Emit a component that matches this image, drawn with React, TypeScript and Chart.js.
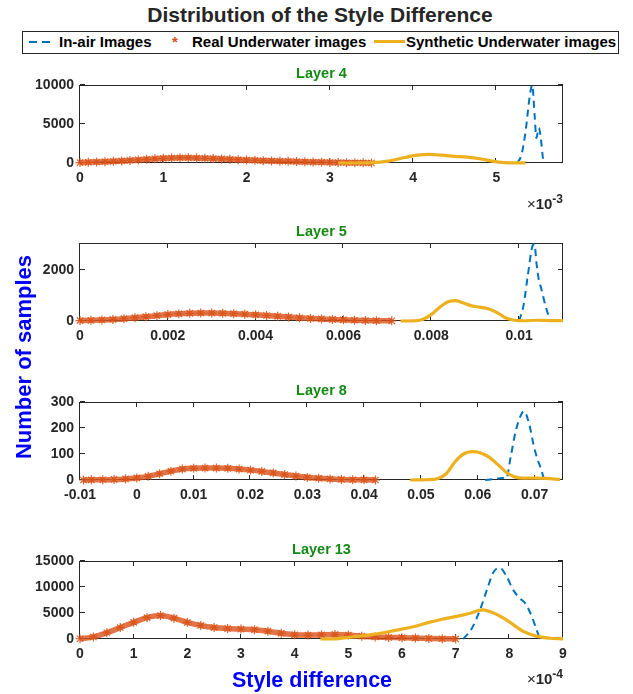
import React, { useEffect, useRef } from "react";
import { Chart, registerables } from "chart.js";
Chart.register(...registerables);

// ---------- colours / fonts ----------
const BLUE = "#0072BD";
const ORANGE = "#D95319";
const YELLOW = "#EDB120";
const AXIS = "#262626";
const FONT = "'Liberation Sans', Arial, Helvetica, sans-serif";

// ---------- text ----------
const MAIN_TITLE = "Distribution of the Style Difference";
const LEGEND_LABELS = ["In-air Images", "Real Underwater images", "Synthetic Underwater images"];
const Y_TITLE = "Number of samples";
const X_TITLE = "Style difference";
const PANEL_TITLES = ["Layer 4", "Layer 5", "Layer 8", "Layer 13"];

// ---------- Layer 4 (x in units of 1e-3) ----------
const L4_xTicks = [0, 1, 2, 3, 4, 5];
const L4_yTicks = [0, 5000, 10000];
const L4_airX = [5.25, 5.3, 5.35, 5.4, 5.43, 5.46, 5.48, 5.51, 5.53, 5.56, 5.58];
const L4_airY = [0, 1000, 4000, 8500, 10000, 6000, 3200, 4500, 3500, 600, 0];
const L4_realX = [0, 0.1, 0.2, 0.3, 0.4, 0.5, 0.6, 0.7, 0.8, 0.9, 1.0, 1.1, 1.2, 1.3, 1.4, 1.5, 1.6, 1.7, 1.8, 1.9, 2.0, 2.1, 2.2, 2.3, 2.4, 2.5, 2.6, 2.7, 2.8, 2.9, 3.0, 3.1, 3.2, 3.3, 3.4, 3.5];
const L4_realY = [60, 90, 130, 170, 220, 270, 330, 400, 470, 540, 600, 640, 660, 660, 640, 610, 570, 520, 470, 420, 380, 340, 300, 270, 240, 210, 180, 150, 125, 100, 80, 60, 45, 30, 20, 10];
const L4_synX = [3.1, 3.3, 3.5, 3.7, 3.9, 4.05, 4.2, 4.35, 4.5, 4.65, 4.8, 4.95, 5.1, 5.2, 5.35];
const L4_synY = [0, 0, 40, 250, 700, 1000, 1100, 1000, 850, 750, 550, 250, 60, 20, 10];

// ---------- Layer 5 ----------
const L5_xTicks = [0, 0.002, 0.004, 0.006, 0.008, 0.01];
const L5_yTicks = [0, 2000];
const L5_airX = [0.01, 0.0101, 0.0102, 0.0103, 0.01035, 0.0104, 0.01045, 0.0105, 0.0106, 0.0107];
const L5_airY = [0, 600, 1800, 2900, 3000, 2200, 1600, 1300, 600, 50];
const L5_realX = [0, 0.00025, 0.0005, 0.00075, 0.001, 0.00125, 0.0015, 0.00175, 0.002, 0.00225, 0.0025, 0.00275, 0.003, 0.00325, 0.0035, 0.00375, 0.004, 0.00425, 0.0045, 0.00475, 0.005, 0.00525, 0.0055, 0.00575, 0.006, 0.00625, 0.0065, 0.00675, 0.0071];
const L5_realY = [15, 25, 40, 60, 90, 130, 170, 210, 250, 280, 300, 310, 310, 300, 285, 265, 240, 215, 185, 155, 125, 100, 80, 60, 45, 30, 20, 12, 5];
const L5_synX = [0.0073, 0.0076, 0.0078, 0.008, 0.0082, 0.0084, 0.00855, 0.0087, 0.0089, 0.0091, 0.0093, 0.0095, 0.0097, 0.0099, 0.0101, 0.0104, 0.0107, 0.011];
const L5_synY = [0, 5, 60, 250, 550, 760, 800, 720, 600, 540, 480, 330, 120, 30, 10, 30, 15, 10];

// ---------- Layer 8 ----------
const L8_xTicks = [-0.01, 0, 0.01, 0.02, 0.03, 0.04, 0.05, 0.06, 0.07];
const L8_yTicks = [0, 100, 200, 300];
const L8_airX = [0.0613, 0.063, 0.0643, 0.065, 0.0658, 0.0667, 0.0675, 0.0681, 0.069, 0.0699, 0.0705, 0.0711, 0.0717];
const L8_airY = [0, 4, 8, 5, 90, 190, 245, 265, 220, 128, 80, 45, 0];
const L8_realX = [-0.0094, -0.008, -0.006, -0.004, -0.002, 0, 0.002, 0.004, 0.006, 0.008, 0.01, 0.012, 0.014, 0.016, 0.018, 0.02, 0.022, 0.024, 0.026, 0.028, 0.03, 0.032, 0.034, 0.036, 0.038, 0.04, 0.042];
const L8_realY = [0, 0.5, 1, 2, 4, 8, 14, 24, 34, 42, 45, 46, 46, 45, 42, 38, 33, 27, 21, 15, 10, 7, 4, 2, 1, 0.5, 0];
const L8_synX = [0.0481, 0.051, 0.053, 0.0545, 0.056, 0.0575, 0.059, 0.0605, 0.062, 0.0635, 0.065, 0.0665, 0.068, 0.07, 0.072, 0.0745];
const L8_synY = [0, 1, 6, 25, 70, 100, 109, 104, 88, 60, 30, 12, 7, 7, 6, 2];

// ---------- Layer 13 (x in units of 1e-4) ----------
const L13_xTicks = [0, 1, 2, 3, 4, 5, 6, 7, 8, 9];
const L13_yTicks = [0, 5000, 10000, 15000];
const L13_airX = [7.14, 7.3, 7.45, 7.6, 7.7, 7.82, 7.95, 8.08, 8.2, 8.3, 8.42, 8.5, 8.57];
const L13_airY = [0, 2000, 5500, 10000, 12800, 13700, 12000, 9300, 7800, 6800, 4300, 2000, 0];
const L13_realX = [0, 0.25, 0.5, 0.75, 1.0, 1.25, 1.5, 1.75, 2.0, 2.25, 2.5, 2.75, 3.0, 3.25, 3.5, 3.75, 4.0, 4.25, 4.5, 4.75, 5.0, 5.25, 5.5, 5.75, 6.0, 6.25, 6.5, 6.75, 7.0];
const L13_realY = [50, 400, 1200, 2200, 3200, 4100, 4500, 4000, 3200, 2600, 2200, 2000, 1900, 1800, 1500, 1100, 800, 750, 800, 850, 750, 550, 400, 300, 250, 180, 100, 50, 20];
const L13_synX = [4.48, 4.75, 5.0, 5.25, 5.5, 5.75, 6.0, 6.25, 6.5, 6.75, 7.0, 7.25, 7.5, 7.75, 8.0, 8.25, 8.5, 8.75, 9.0];
const L13_synY = [0, 30, 300, 600, 950, 1400, 1900, 2450, 3200, 3800, 4300, 4900, 5600, 4800, 3300, 1500, 550, 150, 20];

type Series = { x: number[]; y: number[] };
type PanelDef = {
  title: string;
  boxTop: number;
  xMin: number;
  xMax: number;
  xTicks: number[];
  yMax: number;
  yTicks: number[];
  air: Series;
  real: Series;
  syn: Series;
};

const PANELS: PanelDef[] = [
  { title: PANEL_TITLES[0], boxTop: 85, xMin: 0, xMax: 5.8, xTicks: L4_xTicks, yMax: 10000, yTicks: L4_yTicks,
    air: { x: L4_airX, y: L4_airY }, real: { x: L4_realX, y: L4_realY }, syn: { x: L4_synX, y: L4_synY } },
  { title: PANEL_TITLES[1], boxTop: 243, xMin: 0, xMax: 0.011, xTicks: L5_xTicks, yMax: 3050, yTicks: L5_yTicks,
    air: { x: L5_airX, y: L5_airY }, real: { x: L5_realX, y: L5_realY }, syn: { x: L5_synX, y: L5_synY } },
  { title: PANEL_TITLES[2], boxTop: 402, xMin: -0.01, xMax: 0.075, xTicks: L8_xTicks, yMax: 300, yTicks: L8_yTicks,
    air: { x: L8_airX, y: L8_airY }, real: { x: L8_realX, y: L8_realY }, syn: { x: L8_synX, y: L8_synY } },
  { title: PANEL_TITLES[3], boxTop: 561, xMin: 0, xMax: 9, xTicks: L13_xTicks, yMax: 15000, yTicks: L13_yTicks,
    air: { x: L13_airX, y: L13_airY }, real: { x: L13_realX, y: L13_realY }, syn: { x: L13_synX, y: L13_synY } },
];

const PLOT_LEFT = 80;
const PLOT_RIGHT = 563;
const BOX_H = 78;
const TOP_PAD = 20;
const X_AXIS_H = 30;
const CANVAS_W = 633;
const CANVAS_H = TOP_PAD + BOX_H + X_AXIS_H;

const fmt = (v: number) => String(Math.round(v * 1e6) / 1e6);

const axesBox = {
  id: "axesBox",
  beforeDatasetsDraw(chart: any, _args: any, opts: any) {
    const { ctx, chartArea } = chart;
    const { left, right, top, bottom } = chartArea;
    const xs = chart.scales.x;
    const ys = chart.scales.y;
    ctx.save();
    ctx.strokeStyle = AXIS;
    ctx.lineWidth = 1;
    ctx.strokeRect(left - 0.5, top + 0.5, right - left, bottom - top - 1);
    ctx.beginPath();
    (opts.xTicks || []).forEach((v: number) => {
      const px = Math.round(xs.getPixelForValue(v)) - 0.5;
      ctx.moveTo(px, bottom);
      ctx.lineTo(px, bottom - 5);
      ctx.moveTo(px, top);
      ctx.lineTo(px, top + 5);
    });
    (opts.yTicks || []).forEach((v: number) => {
      const py = Math.round(ys.getPixelForValue(v)) - 0.5;
      ctx.moveTo(left, py);
      ctx.lineTo(left + 5, py);
      ctx.moveTo(right, py);
      ctx.lineTo(right - 5, py);
    });
    ctx.stroke();
    ctx.fillStyle = "#138a13";
    ctx.font = `bold 14.5px ${FONT}`;
    ctx.textAlign = "center";
    ctx.textBaseline = "middle";
    ctx.fillText(opts.title, (left + right) / 2, top - 11);
    ctx.restore();
  },
};

const toPts = (s: Series) => s.x.map((x, i) => ({ x, y: s.y[i] }));

function Panel({ def }: { def: PanelDef }) {
  const ref = useRef<HTMLCanvasElement | null>(null);
  useEffect(() => {
    if (!ref.current) return;
    const tickFont = { family: FONT, size: 14, weight: "bold" as const };
    const chart = new Chart(ref.current, {
      type: "line",
      data: {
        datasets: [
          {
            label: LEGEND_LABELS[2],
            data: toPts(def.syn),
            borderColor: YELLOW,
            backgroundColor: YELLOW,
            borderWidth: 3.2,
            pointRadius: 0,
            cubicInterpolationMode: "monotone",
            clip: false as any,
            order: 0,
          },
          {
            label: LEGEND_LABELS[1],
            data: toPts(def.real),
            borderColor: "rgba(217,83,25,0.8)",
            backgroundColor: ORANGE,
            borderWidth: 5.5,
            pointStyle: "star",
            pointRadius: 4.5,
            pointBorderWidth: 1.2,
            pointBorderColor: "rgba(217,83,25,0.9)",
            cubicInterpolationMode: "monotone",
            clip: false as any,
            order: 1,
          },
          {
            label: LEGEND_LABELS[0],
            data: toPts(def.air),
            borderColor: BLUE,
            backgroundColor: BLUE,
            borderWidth: 2,
            borderDash: [7, 5],
            pointRadius: 0,
            cubicInterpolationMode: "monotone",
            clip: false as any,
            order: 2,
          },
        ],
      },
      options: {
        responsive: false,
        animation: false,
        layout: { padding: { left: 0, right: CANVAS_W - PLOT_RIGHT, top: TOP_PAD, bottom: 0 } },
        plugins: {
          legend: { display: false },
          tooltip: { enabled: false },
          title: { display: false },
          axesBox: { title: def.title, xTicks: def.xTicks, yTicks: def.yTicks },
        } as any,
        scales: {
          x: {
            type: "linear",
            min: def.xMin,
            max: def.xMax,
            grid: { display: false, drawTicks: false },
            border: { display: false },
            ticks: {
              autoSkip: false,
              maxRotation: 0,
              padding: 7,
              color: AXIS,
              font: tickFont,
              callback: (v: any) => fmt(Number(v)),
            },
            afterBuildTicks: (s: any) => {
              s.ticks = def.xTicks.map((value) => ({ value }));
            },
            afterFit: (s: any) => {
              s.height = X_AXIS_H;
            },
          },
          y: {
            type: "linear",
            min: 0,
            max: def.yMax,
            grid: { display: false, drawTicks: false },
            border: { display: false },
            ticks: {
              padding: 6,
              color: AXIS,
              font: tickFont,
              callback: (v: any) => fmt(Number(v)),
            },
            afterBuildTicks: (s: any) => {
              s.ticks = def.yTicks.map((value) => ({ value }));
            },
            afterFit: (s: any) => {
              s.width = PLOT_LEFT;
            },
          },
        },
      },
      plugins: [axesBox],
    });
    return () => chart.destroy();
  }, [def]);
  return (
    <canvas
      ref={ref}
      width={CANVAS_W}
      height={CANVAS_H}
      style={{ position: "absolute", left: 0, top: def.boxTop - TOP_PAD, display: "block" }}
    />
  );
}

function Exponent({ exp, top }: { exp: string; top: number }) {
  return (
    <div
      style={{
        position: "absolute",
        right: CANVAS_W - PLOT_RIGHT,
        top,
        font: `bold 15px ${FONT}`,
        color: AXIS,
        whiteSpace: "nowrap",
      }}
    >
      <span style={{ fontWeight: "normal" }}>×</span>10
      <sup style={{ fontSize: 12 }}>{exp}</sup>
    </div>
  );
}

export default function App() {
  const text = { position: "absolute" as const, whiteSpace: "nowrap" as const, fontFamily: FONT, fontWeight: "bold" as const };
  const legendText = { ...text, top: 31, lineHeight: "22px", fontSize: 15, color: "#000" };
  return (
    <div
      style={{
        position: "fixed",
        left: 0,
        top: 0,
        width: CANVAS_W,
        height: 694,
        background: "#fff",
        overflow: "hidden",
      }}
    >
      <div style={{ ...text, left: 0, width: 640, top: 3, textAlign: "center", fontSize: 21, color: AXIS, lineHeight: "24px" }}>
        {MAIN_TITLE}
      </div>
      {/* legend */}
      <div style={{ position: "absolute", left: 22, top: 31, width: 595, height: 21, border: `1px solid ${AXIS}` }} />
      <div style={{ position: "absolute", left: 29, top: 41, width: 8, height: 2, background: BLUE }} />
      <div style={{ position: "absolute", left: 42, top: 41, width: 8, height: 2, background: BLUE }} />
      <div style={{ ...legendText, left: 59 }}>{LEGEND_LABELS[0]}</div>
      <div style={{ ...legendText, left: 172, color: ORANGE }}>*</div>
      <div style={{ ...legendText, left: 192 }}>{LEGEND_LABELS[1]}</div>
      <div style={{ position: "absolute", left: 374, top: 40, width: 31, height: 3, background: YELLOW }} />
      <div style={{ ...legendText, left: 406 }}>{LEGEND_LABELS[2]}</div>

      {PANELS.map((p) => (
        <Panel key={p.title} def={p} />
      ))}
      <Exponent exp="-3" top={192} />
      <Exponent exp="-4" top={667} />

      <div
        style={{
          ...text,
          left: 24 - 130,
          top: 357 - 13,
          width: 260,
          lineHeight: "26px",
          textAlign: "center",
          fontSize: 22,
          color: "#0000FF",
          transform: "rotate(-90deg)",
        }}
      >
        {Y_TITLE}
      </div>
      <div style={{ ...text, left: 312 - 100, width: 200, top: 667, lineHeight: "26px", textAlign: "center", fontSize: 21.5, color: "#0000FF" }}>
        {X_TITLE}
      </div>
    </div>
  );
}
